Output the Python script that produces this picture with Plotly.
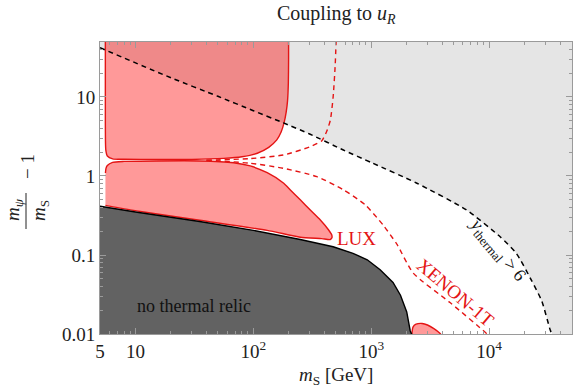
import plotly.graph_objects as go

# ---------------- data ----------------
# thermal-coupling contour (y_thermal = 6), dashed black
YT_X = [5, 20, 50, 100, 180, 300, 580, 1000, 2440, 6450, 12400, 17000, 23000, 28000, 33000, 35000]
YT_Y = [42, 17.5, 10.2, 6.7, 4.7, 3.4, 2.13, 1.48, 0.81, 0.37, 0.17, 0.105, 0.047, 0.026, 0.0112, 0.009]

# upper LUX excluded region
UP_X = [5.55, 5.55, 5.6, 5.77, 6.4, 8, 15, 30, 56, 80, 108, 135, 158, 172, 182, 190, 195, 198, 199, 199]
UP_Y = [80, 5, 2.14, 1.79, 1.65, 1.63, 1.62, 1.62, 1.67, 1.75, 1.94, 2.3, 2.86, 3.6, 4.7, 6.5, 9, 15, 30, 80]

# lower LUX excluded region
LUX_X = [5.56, 5.62, 5.77, 6.4, 8, 15, 35, 68, 94, 131, 181, 206, 250, 304, 370, 435, 462, 464, 449,
         380, 250, 131, 35, 11, 5.56]
LUX_Y = [1.09, 1.25, 1.36, 1.49, 1.53, 1.55, 1.55, 1.47, 1.34, 1.10, 0.81, 0.665, 0.50, 0.37, 0.277, 0.207,
         0.18, 0.165, 0.157, 0.161, 0.168, 0.205, 0.275, 0.355, 0.425]

# small excluded island near the bottom
BLOB_X = [2200, 2260, 2400, 2700, 3000, 3400, 3800, 4100]
BLOB_Y = [0.009, 0.0122, 0.0133, 0.0136, 0.013, 0.0117, 0.0103, 0.009]

# "no thermal relic" boundary
DARK_X = [5, 10, 35, 100, 250, 475, 700, 925, 1190, 1370, 1530, 1770, 2000, 2140, 2230]
DARK_Y = [0.415, 0.35, 0.265, 0.205, 0.157, 0.127, 0.105, 0.087, 0.065, 0.053, 0.045, 0.031, 0.019, 0.011, 0.0095]

# XENON-1T projection, two dashed branches
XU_X = [40, 94, 181, 304, 381, 420, 450, 475, 495, 505]
XU_Y = [1.585, 1.66, 1.85, 2.35, 2.8, 3.7, 5.1, 10, 26, 60]
XL_X = [40, 94, 181, 346, 580, 890, 1260, 1660, 2270, 4660, 9600, 11000]
XL_Y = [1.585, 1.45, 1.25, 0.98, 0.67, 0.43, 0.24, 0.135, 0.059, 0.025, 0.01, 0.008]

X_TICKS = [5, 10, 100, 1000, 10000]
X_TICKTEXT = ["5", "10", "10<sup>2</sup>", "10<sup>3</sup>", "10<sup>4</sup>"]
Y_TICKS = [0.01, 0.1, 1, 10]
Y_TICKTEXT = ["0.01", "0.1", "1", "10"]

X_MINOR = [6, 7, 8, 9] + [k * 10 for k in range(2, 10)] + [k * 100 for k in range(2, 10)] \
    + [k * 1000 for k in range(2, 10)] + [k * 10000 for k in range(2, 5)]
Y_MINOR = [k * 0.01 for k in range(2, 10)] + [k * 0.1 for k in range(2, 10)] \
    + [float(k) for k in range(2, 10)] + [20.0, 30.0, 40.0]

# ---------------- styles ----------------
FONT = "Liberation Serif"
RED_FILL = "rgba(255,0,0,0.4)"
RED_LINE = "rgb(228,20,20)"
LIGHT = "#e5e5e5"
DARK = "#626262"
FRAME = "#9a9a9a"
INK = "#222"

fig = go.Figure()

# light grey region above the y_thermal = 6 contour
fig.add_trace(go.Scatter(
    x=YT_X + [80000, 80000, 4, 4], y=YT_Y + [0.005, 100, 100, YT_Y[0]],
    fill="toself", fillcolor=LIGHT, line=dict(width=0), mode="lines", hoverinfo="skip"))

# red excluded regions
for xs, ys in [(UP_X, UP_Y), (LUX_X, LUX_Y), (BLOB_X, BLOB_Y)]:
    fig.add_trace(go.Scatter(x=xs, y=ys, fill="toself", fillcolor=RED_FILL,
                             line=dict(color=RED_LINE, width=1.4, shape="spline", smoothing=0.6),
                             mode="lines", hoverinfo="skip"))

# dark grey: no thermal relic
fig.add_trace(go.Scatter(
    x=DARK_X + [DARK_X[-1], 4, 4], y=DARK_Y + [0.005, 0.005, DARK_Y[0]],
    fill="toself", fillcolor=DARK, line=dict(color="black", width=1.4), mode="lines", hoverinfo="skip"))

# dashed lines
fig.add_trace(go.Scatter(x=YT_X, y=YT_Y, mode="lines", hoverinfo="skip",
                         line=dict(color="black", width=1.5, dash="5px,4px", shape="spline", smoothing=0.6)))
for xs, ys in [(XU_X, XU_Y), (XL_X, XL_Y)]:
    fig.add_trace(go.Scatter(x=xs, y=ys, mode="lines", hoverinfo="skip",
                             line=dict(color=RED_LINE, width=1.4, dash="5px,4px", shape="spline", smoothing=0.6)))

axis_common = dict(type="log", showgrid=False, zeroline=False, showline=True, linecolor=FRAME, linewidth=1,
                   mirror="ticks", ticks="inside", ticklen=6, tickcolor=FRAME, tickwidth=1,
                   tickfont=dict(family=FONT, size=19, color=INK))

fig.update_layout(
    width=573, height=390, margin=dict(l=100, r=1, t=42, b=56),
    paper_bgcolor="white", plot_bgcolor="white", showlegend=False,
    xaxis=dict(range=[0.699, 4.703], tickvals=X_TICKS, ticktext=X_TICKTEXT,
               minor=dict(tickvals=X_MINOR, ticks="inside", ticklen=3, tickcolor=FRAME), **axis_common),
    yaxis=dict(range=[-2, 1.696], tickvals=Y_TICKS, ticktext=Y_TICKTEXT,
               minor=dict(tickvals=Y_MINOR, ticks="inside", ticklen=3, tickcolor=FRAME), **axis_common),
)


def px2paper(px, py):
    return (px - 100) / 472.0, (334 - py) / 292.0


def paper_note(text, px, py, size, angle=0, color=INK):
    tx, ty = px2paper(px, py)
    return dict(text=text, x=tx, y=ty, xref="paper", yref="paper", showarrow=False, textangle=angle,
                font=dict(family=FONT, size=size, color=color), xanchor="center", yanchor="middle")


anns = [
    paper_note("Coupling to <i>u</i><sub><i>R</i></sub>", 336, 15, 20),
    paper_note("<i>m</i><sub>S</sub> [GeV]", 336, 376, 19),
    # rotated fraction  m_psi / m_S  - 1
    paper_note("<i>m</i><sub><i>ψ</i></sub>", 14, 210, 19, angle=-90),
    paper_note("<i>m</i><sub>S</sub>", 40, 211, 19, angle=-90),
    paper_note("− 1", 27, 167, 19, angle=-90),
]
# region labels (data coordinates, log10 values)
anns.append(dict(text="no thermal relic", x=1.5, y=-1.646, xref="x", yref="y", showarrow=False,
                 font=dict(family=FONT, size=18, color="#111"), xanchor="center", yanchor="middle"))
anns.append(dict(text="LUX", x=2.69, y=-0.79, xref="x", yref="y", showarrow=False,
                 font=dict(family=FONT, size=19, color=RED_LINE), xanchor="left", yanchor="middle"))
anns.append(dict(text="XENON-1T", x=3.712, y=-1.48, xref="x", yref="y", showarrow=False, textangle=40,
                 font=dict(family=FONT, size=19, color=RED_LINE), xanchor="center", yanchor="middle"))
anns.append(dict(text="<i>y</i><sub>thermal</sub> > 6", x=4.07, y=-0.937, xref="x", yref="y", showarrow=False,
                 textangle=50, font=dict(family=FONT, size=18, color="#111"), xanchor="center", yanchor="middle"))
fig.update_layout(annotations=anns)

# fraction bar of the y-axis label
x0, y0 = px2paper(26, 193)
x1, y1 = px2paper(26, 229)
fig.add_shape(type="line", xref="paper", yref="paper", x0=x0, y0=y0, x1=x1, y1=y1,
              line=dict(color=INK, width=1))

fig.write_html("out.html")
